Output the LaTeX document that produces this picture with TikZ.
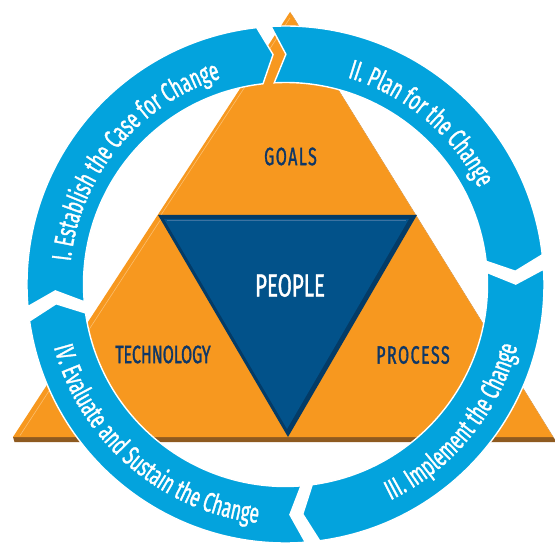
\documentclass[tikz,border=0pt]{standalone}
\usepackage{fontspec}
\newfontfamily\dinfont{Fira Sans}[FakeStretch=0.64, FakeBold=1.2]
\usetikzlibrary{decorations.text,calc}

\definecolor{ringblue}{HTML}{03A3DD}
\definecolor{tri}{HTML}{F7981F}
\definecolor{trishade}{HTML}{B8742A}
\definecolor{tribase}{HTML}{8E5A20}
\definecolor{trihi}{HTML}{FBBE6E}
\definecolor{peopleface}{HTML}{02528A}
\definecolor{peopleedge}{HTML}{043B66}
\definecolor{peoplehi}{HTML}{3C73A2}
\definecolor{labelnavy}{HTML}{0E3767}

% ring geometry
\def\Ro{258.5}
\def\Ri{202}
\def\Rm{230.25}
\def\gh{1.6}   % half width of a gap, degrees
\def\gd{3.3}   % depth of the chevron, degrees

% one ring segment running clockwise from gap #1 to gap #2
\newcommand\ringseg[2]{%
  \pgfmathsetmacro\segS{#1-\gh}%
  \pgfmathsetmacro\segE{#2+\gh}%
  \pgfmathsetmacro\segTip{\segE-\gd}%
  \pgfmathsetmacro\segNotch{\segS-\gd}%
  \draw[segment] (\segS:\Ro) arc[start angle=\segS, end angle=\segE, radius=\Ro]
    -- (\segTip:\Rm) -- (\segE:\Ri)
    arc[start angle=\segE, end angle=\segS, radius=\Ri]
    -- (\segNotch:\Rm) -- cycle;}

\begin{document}
\begin{tikzpicture}[x=1pt,y=1pt,
  segment/.style={fill=ringblue, draw=white, line width=1.4pt, line join=miter},
  lbl/.style={inner sep=0pt, text=labelnavy, font=\dinfont\fontsize{25}{25}\selectfont},
  widelbl/.style={lbl, font=\dinfont\fontsize{25}{25}\selectfont\addfontfeatures{LetterSpace=6}},
  peoplelbl/.style={inner sep=0pt, text=white, font=\dinfont\fontsize{32}{32}\selectfont},
  ringlabel/.style={decorate, decoration={text along path, text align=center,
      text color=white, text={|\dinfont\fontsize{27.5}{27.5}\selectfont|#1}}}
]
\useasboundingbox (0,0) rectangle (555,542);

% triangle corners
\coordinate (A)  at (290,530);
\coordinate (BL) at (13,105);
\coordinate (BR) at (553,105);
\coordinate (P1) at (158,327);
\coordinate (P2) at (417,327);
\coordinate (P3) at (288,105);

% bevel shadow of the large triangle
\fill[trishade] (A) -- ++(3.5,-5) -- ($(BR)+(3.5,-5)$) -- (BR) -- cycle;
\fill[tribase] (BL) -- (BR) -- ++(3.5,-5) -- ($(BL)+(1.5,-5)$) -- cycle;

% orange triangle
\fill[tri] (A) -- (BL) -- (BR) -- cycle;
\draw[trihi, line width=0.6pt] ($(A)+(0,-6)$) -- ($(P1)+(3,0)$);
\draw[trihi, line width=0.6pt] ($(P1)+(3,-4)$) -- ($(BL)+(7,1.5)$);

% inverted centre triangle
\fill[peopleedge] (P1) -- (P2) -- (P3) -- cycle;
\fill[peopleface] (164,323) -- (409,323) -- (287,113) -- cycle;
\draw[peoplehi, line width=0.6pt] (167,321.5) -- (406,321.5);

% labels of the triangles
\node[widelbl] (goals) at (290.5,385.5) {GOALS};
\node[lbl] (tech) at (163,187.5) {TECHNOLOGY};
\node[widelbl] (process) at (413,187) {PROCESS};
\node[peoplelbl] (people) at (290,256.5) {PEOPLE};

% the cycle around the triangle
\begin{scope}[shift={(285.5,257.5)}]
  \ringseg{186.5}{94.8}
  \ringseg{94.8}{5}
  \ringseg{5}{-84}
  \ringseg{-84}{-173.5}
  \path[ringlabel={I. Establish the Case for Change}]
    (186.5:216) arc[start angle=186.5, end angle=94.8, radius=216];
  \path[ringlabel={II. Plan for the Change}]
    (94.8:216) arc[start angle=94.8, end angle=5, radius=216];
  \path[ringlabel={III. Implement the Change}]
    (-84:240) arc[start angle=-84, end angle=5, radius=240];
  \path[ringlabel={IV. Evaluate and Sustain the Change}]
    (186.5:240) arc[start angle=186.5, end angle=272, radius=240];
\end{scope}
\end{tikzpicture}
\end{document}
